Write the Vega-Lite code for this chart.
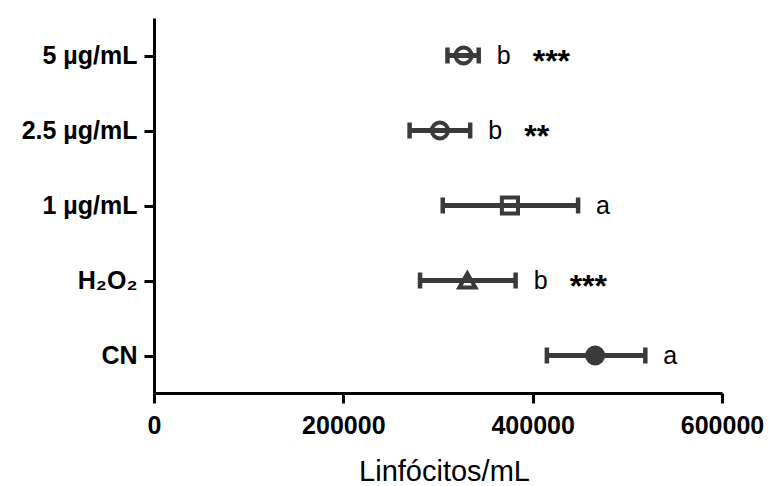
{
  "$schema": "https://vega.github.io/schema/vega-lite/v6.json",
  "width": 568,
  "height": 375,
  "autosize": {"type": "none"},
  "padding": {"left": 154, "top": 18, "right": 47, "bottom": 93},
  "background": "white",
  "config": {
    "view": {"stroke": null},
    "axis": {
      "grid": false,
      "domainColor": "black",
      "domainWidth": 3,
      "tickColor": "black",
      "tickWidth": 3,
      "tickSize": 10,
      "labelFont": "Liberation Sans",
      "labelFontWeight": "bold",
      "labelFontSize": 25,
      "labelColor": "black",
      "titleFont": "Liberation Sans",
      "titleColor": "black"
    }
  },
  "data": {
    "values": [
      {"group": "5 µg/mL", "mean": 327000, "lo": 310000, "hi": 343000, "letter": "b", "stars": "***"},
      {"group": "2.5 µg/mL", "mean": 302000, "lo": 270000, "hi": 334000, "letter": "b", "stars": "**"},
      {"group": "1 µg/mL", "mean": 376000, "lo": 305000, "hi": 448000, "letter": "a", "stars": ""},
      {"group": "H₂O₂", "mean": 331000, "lo": 281000, "hi": 382000, "letter": "b", "stars": "***"},
      {"group": "CN", "mean": 466000, "lo": 415000, "hi": 519000, "letter": "a", "stars": ""}
    ]
  },
  "encoding": {
    "y": {
      "field": "group",
      "type": "nominal",
      "sort": ["5 µg/mL", "2.5 µg/mL", "1 µg/mL", "H₂O₂", "CN"],
      "scale": {"type": "point", "padding": 0.5},
      "axis": {"title": null, "labelPadding": 7}
    }
  },
  "layer": [
    {
      "mark": {"type": "rule", "strokeWidth": 5, "color": "#3a3a3a"},
      "encoding": {
        "x": {
          "field": "lo",
          "type": "quantitative",
          "scale": {"domain": [0, 600000], "nice": false},
          "axis": {
            "values": [0, 200000, 400000, 600000],
            "format": "d",
            "labelPadding": 10,
            "labelFlush": false,
            "labelOverlap": false,
            "labelBound": false,
            "title": "Linfócitos/mL",
            "titleFontSize": 29,
            "titleFontWeight": "normal",
            "titleX": 290,
            "titleY": 87,
            "titleAlign": "center",
            "titleBaseline": "alphabetic"
          }
        },
        "x2": {"field": "hi"}
      }
    },
    {
      "mark": {"type": "tick", "orient": "vertical", "size": 16, "thickness": 4.5, "color": "#3a3a3a", "opacity": 1},
      "encoding": {"x": {"field": "lo", "type": "quantitative"}}
    },
    {
      "mark": {"type": "tick", "orient": "vertical", "size": 16, "thickness": 4.5, "color": "#3a3a3a", "opacity": 1},
      "encoding": {"x": {"field": "hi", "type": "quantitative"}}
    },
    {
      "mark": {"type": "point", "filled": false, "size": 260, "strokeWidth": 4, "stroke": "#3a3a3a", "opacity": 1},
      "encoding": {
        "x": {"field": "mean", "type": "quantitative"},
        "shape": {
          "field": "group",
          "type": "nominal",
          "scale": {
            "domain": ["5 µg/mL", "2.5 µg/mL", "1 µg/mL", "H₂O₂", "CN"],
            "range": ["circle", "circle", "square", "triangle-up", "circle"]
          },
          "legend": null
        },
        "fill": {
          "condition": {"test": "datum.group === 'CN'", "value": "#3a3a3a"},
          "value": "transparent"
        }
      }
    },
    {
      "mark": {"type": "text", "align": "left", "baseline": "middle", "dx": 18, "font": "Liberation Sans", "fontSize": 25, "color": "black"},
      "encoding": {
        "x": {"field": "hi", "type": "quantitative"},
        "text": {"field": "letter"}
      }
    },
    {
      "mark": {"type": "text", "align": "left", "baseline": "middle", "dx": 54, "dy": 6, "font": "Liberation Sans", "fontSize": 32, "fontWeight": "bold", "color": "black"},
      "encoding": {
        "x": {"field": "hi", "type": "quantitative"},
        "text": {"field": "stars"}
      }
    }
  ]
}
